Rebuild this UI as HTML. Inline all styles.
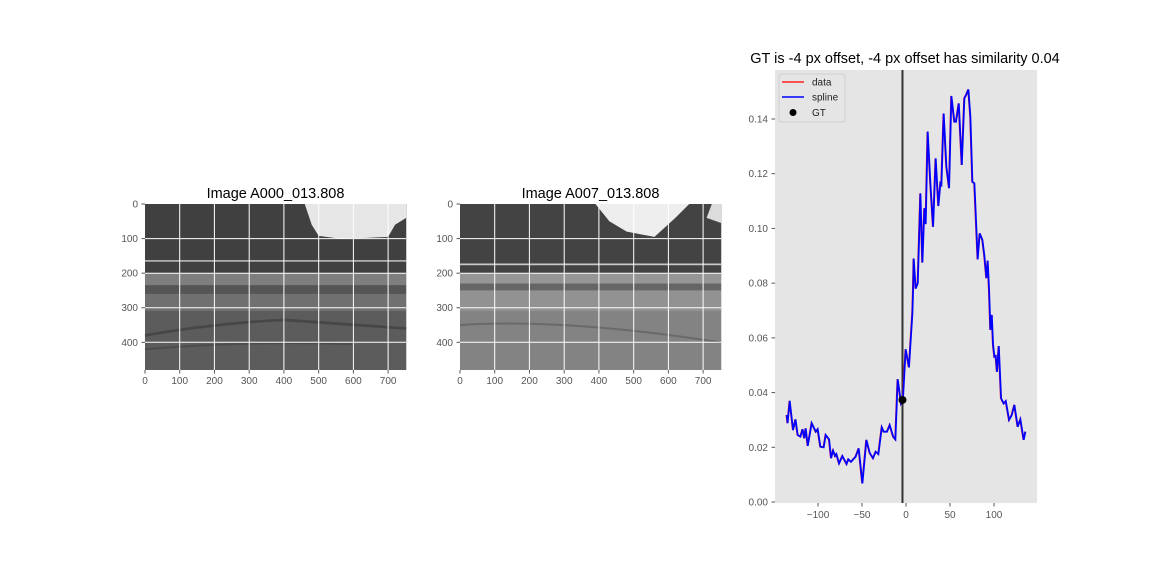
<!DOCTYPE html>
<html><head><meta charset="utf-8"><style>
html,body{margin:0;padding:0;background:#fff;}
svg{display:block;font-family:"Liberation Sans","DejaVu Sans",sans-serif;}
</style></head><body>
<svg id="fig" width="1152" height="576" viewBox="0 0 1152 576">
<rect width="1152" height="576" fill="#fff"/>
<!-- Image 1 -->
<g>
<text x="275.5" y="198" font-size="14.5" text-anchor="middle" fill="#000">Image A000_013.808</text>
<g transform="translate(145,204) scale(0.3473,0.3458)">
<rect x="0" y="0" width="752" height="480" fill="#5a5a5a"/>
<rect x="0" y="0" width="752" height="200" fill="#404040"/>
<path d="M460,0 L752,0 L752,40 L720,60 L700,95 L640,98 L560,100 L500,92 L480,60 Z" fill="#e6e6e6"/>
<rect x="0" y="162" width="752" height="5" fill="#b0b0b0"/>
<rect x="0" y="200" width="752" height="35" fill="#7e7e7e"/>
<rect x="0" y="235" width="752" height="25" fill="#555"/>
<rect x="0" y="260" width="752" height="50" fill="#707070"/>
<rect x="0" y="310" width="752" height="170" fill="#5c5c5c"/>
<path d="M0,380 Q200,345 400,335 L752,360" stroke="#474747" stroke-width="8" fill="none"/>
<path d="M0,420 Q300,395 600,405" stroke="#4c4c4c" stroke-width="6" fill="none"/>
</g>
<g stroke="#fff" stroke-width="1">
<line x1="179.7" y1="204" x2="179.7" y2="370"/><line x1="214.4" y1="204" x2="214.4" y2="370"/><line x1="249.2" y1="204" x2="249.2" y2="370"/><line x1="283.9" y1="204" x2="283.9" y2="370"/><line x1="318.7" y1="204" x2="318.7" y2="370"/><line x1="353.4" y1="204" x2="353.4" y2="370"/><line x1="388.1" y1="204" x2="388.1" y2="370"/>
<line x1="145" y1="238.6" x2="406" y2="238.6"/><line x1="145" y1="273.2" x2="406" y2="273.2"/><line x1="145" y1="307.7" x2="406" y2="307.7"/><line x1="145" y1="342.3" x2="406" y2="342.3"/>
</g>
</g>
<!-- Image 2 -->
<g>
<text x="590.5" y="198" font-size="14.5" text-anchor="middle" fill="#000">Image A007_013.808</text>
<g transform="translate(460,204) scale(0.3473,0.3458)">
<rect x="0" y="0" width="752" height="480" fill="#808080"/>
<rect x="0" y="0" width="752" height="200" fill="#434343"/>
<path d="M390,0 L660,0 L620,40 L560,95 L480,80 L430,50 Z" fill="#eeeeee"/>
<path d="M710,40 L752,55 L752,0 L725,0 Z" fill="#dcdcdc"/>
<rect x="0" y="172" width="752" height="5" fill="#c8c8c8"/>
<rect x="0" y="200" width="752" height="30" fill="#969696"/>
<rect x="0" y="230" width="752" height="20" fill="#666"/>
<rect x="0" y="250" width="752" height="60" fill="#929292"/>
<rect x="0" y="310" width="752" height="170" fill="#838383"/>
<path d="M0,350 Q300,330 750,400" stroke="#6a6a6a" stroke-width="6" fill="none"/>
</g>
<g stroke="#fff" stroke-width="1">
<line x1="494.7" y1="204" x2="494.7" y2="370"/><line x1="529.4" y1="204" x2="529.4" y2="370"/><line x1="564.2" y1="204" x2="564.2" y2="370"/><line x1="598.9" y1="204" x2="598.9" y2="370"/><line x1="633.7" y1="204" x2="633.7" y2="370"/><line x1="668.4" y1="204" x2="668.4" y2="370"/><line x1="703.1" y1="204" x2="703.1" y2="370"/>
<line x1="460" y1="238.6" x2="721" y2="238.6"/><line x1="460" y1="273.2" x2="721" y2="273.2"/><line x1="460" y1="307.7" x2="721" y2="307.7"/><line x1="460" y1="342.3" x2="721" y2="342.3"/>
</g>
</g>
<g id="imgaxes"></g>
<!-- Chart -->
<g id="chart">
<rect x="775" y="70" width="262" height="433" fill="#e5e5e5"/>
<text x="905" y="63" font-size="14.5" text-anchor="middle" fill="#000">GT is -4 px offset, -4 px offset has similarity 0.04</text>
</g>
</svg>
<script>
const xs = [-136,-135,-132.6,-128.8,-126,-123.5,-120.5,-118,-116,-114.4,-112,-107.6,-103,-100.8,-97.7,-94,-91.7,-87.8,-85.6,-83.3,-81,-79.5,-76.5,-72.7,-68,-66,-62.9,-57.6,-54.2,-50,-45.5,-41.7,-37.9,-34.9,-31.8,-28,-25.8,-22,-19,-15,-12.5,-9.9,-6,-4,-0.8,3,6.8,7.6,8.3,10.6,12.9,15.9,18.2,20.5,21.9,24.2,27.3,30.3,33.3,36.4,38.6,39.8,42.4,45.5,48.5,51.1,54.5,56.4,59.5,62.9,65.9,68,70.5,72.7,75,77.3,81,83.3,86.4,88.6,90.9,92.4,94,95.5,97,98.5,100,101.5,103,105,107.6,110.6,112.9,116.7,119.7,122.7,126.5,129.5,133.3,135.2];
const ys = [0.0318,0.0288,0.037,0.0263,0.0302,0.0245,0.0239,0.0266,0.0233,0.0269,0.0205,0.0288,0.0257,0.0266,0.0202,0.02,0.0245,0.0229,0.016,0.0188,0.0168,0.0175,0.0141,0.0168,0.0139,0.0156,0.0147,0.0166,0.0196,0.0068,0.0227,0.018,0.016,0.0184,0.0175,0.0273,0.0257,0.0257,0.0281,0.0239,0.0229,0.0449,0.036,0.0373,0.0558,0.0492,0.069,0.0775,0.089,0.078,0.08,0.1128,0.0875,0.1074,0.1016,0.1354,0.1165,0.1006,0.1256,0.1082,0.1165,0.116,0.142,0.1226,0.1147,0.1484,0.139,0.139,0.1457,0.1232,0.1476,0.1488,0.1508,0.1408,0.117,0.1165,0.0887,0.0982,0.0958,0.09,0.0818,0.0882,0.0775,0.0629,0.0684,0.0574,0.0531,0.0534,0.0476,0.057,0.0379,0.036,0.0369,0.03,0.0317,0.0355,0.0275,0.0302,0.0227,0.0257];
const gtX = [-4];
const gtY = [0.0373];
const xTicks = [-100,-50,0,50,100];
const yTicks = [0,0.02,0.04,0.06,0.08,0.10,0.12,0.14];
const imgXTicks = [0,100,200,300,400,500,600,700];
const imgYTicks = [0,100,200,300,400];

const NS = "http://www.w3.org/2000/svg";
const sx = v => 906 + v * 0.88;
const sy = v => 502 - v * 2735.7;
const chart = document.getElementById('chart');
function mk(tag, attrs, parent){const e=document.createElementNS(NS,tag);for(const k in attrs)e.setAttribute(k,attrs[k]);parent.appendChild(e);return e;}

const ia = document.getElementById('imgaxes');
[145,460].forEach((x0,pi)=>{
  imgXTicks.forEach(t=>{
    const px = x0 + t*0.3473;
    const tk = mk('line',{x1:px,y1:370,x2:px,y2:373.5,stroke:'#555'},ia);
    
    
    const tx = mk('text',{x:px,y:384,'font-size':10,'text-anchor':'middle',fill:'#555'},ia);
    
    
    tx.textContent = t;
  });
  imgYTicks.forEach(t=>{
    const py = 204 + t*0.3458;
    const tk = mk('line',{x1:x0-3.5,y1:py,x2:x0,y2:py,stroke:'#555'},ia);
    
    
    const tx = mk('text',{x:x0-7,y:py+3.5,'font-size':10,'text-anchor':'end',fill:'#555'},ia);
    
    
    tx.textContent = t;
  });
});

xTicks.forEach(t=>{
  const px = sx(t);
  const tk = mk('line',{x1:px,y1:503,x2:px,y2:506.5,stroke:'#555'},chart);
  
  
  const tx = mk('text',{x:px,y:518,'font-size':10,'text-anchor':'middle',fill:'#555'},chart);
  
  
  tx.textContent = t<0 ? '\u2212'+Math.abs(t) : String(t);
});
yTicks.forEach(t=>{
  const py = sy(t);
  const tk = mk('line',{x1:771.5,y1:py,x2:775,y2:py,stroke:'#555'},chart);
  
  
  const tx = mk('text',{x:768,y:py+3.5,'font-size':10,'text-anchor':'end',fill:'#555'},chart);
  
  
  tx.textContent = t.toFixed(2);
});

const vl = mk('line',{x1:sx(gtX[0]),y1:70,x2:sx(gtX[0]),y2:503,stroke:'#333','stroke-width':2},chart);



const pts = xs.map((x,i)=>sx(x).toFixed(1)+','+sy(ys[i]).toFixed(1)).join(' ');
const dl = mk('polyline',{points:pts,fill:'none',stroke:'#ff2020','stroke-width':1.5},chart);


const sl = mk('polyline',{points:pts,fill:'none',stroke:'#0000ff','stroke-width':1.8,transform:'translate(0.4,0)'},chart);


const gp = mk('circle',{cx:sx(gtX[0]),cy:sy(gtY[0]),r:4,fill:'#000'},chart);



const lg = mk('g',{},chart);


mk('rect',{x:779,y:74,width:66,height:48,rx:2,fill:'#e5e5e5',stroke:'#cfcfcf'},lg);
[['data','#ff2020',82],['spline','#0000ff',97]].forEach(([n,c,y])=>{
  const l = mk('line',{x1:782,y1:y,x2:804,y2:y,stroke:c,'stroke-width':1.5},lg);
  
  
  const t = mk('text',{x:812,y:y+3.5,'font-size':10,fill:'#222'},lg);
  
  
  t.textContent = n;
});
const lc = mk('circle',{cx:793,cy:112.5,r:3.5,fill:'#000'},lg);


const lt = mk('text',{x:812,y:116,'font-size':10,fill:'#222'},lg);


lt.textContent = 'GT';
</script>
</body></html>
